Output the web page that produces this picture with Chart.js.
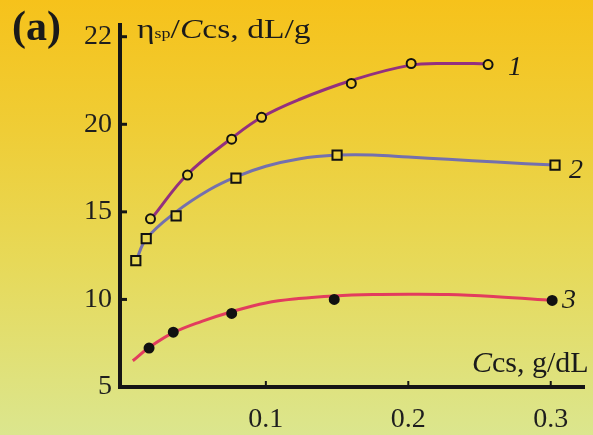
<!DOCTYPE html>
<html><head><meta charset="utf-8">
<script src="https://cdn.jsdelivr.net/npm/chart.js@4.4.0/dist/chart.umd.min.js"></script>
<style>
html,body{margin:0;padding:0;}
body{width:593px;height:435px;overflow:hidden;position:relative;
 background:linear-gradient(180deg,#f6c21b 0%,#efcd36 30%,#e7d958 60%,#dbe68e 100%);
 font-family:"Liberation Serif","Times New Roman",serif;color:#1a1a1a;}
#wrap{position:absolute;left:0;top:0;width:593px;height:435px;}
.t{position:absolute;line-height:1;white-space:nowrap;}
</style></head>
<body>
<div id="wrap"><canvas id="c" width="593" height="435"></canvas></div>
<div class="t" style="left:12px;top:5px;font-size:42px;font-weight:bold">(a)</div>
<div class="t" style="left:137px;top:14.5px;font-size:28px;transform:scaleX(1.2);transform-origin:0 0">η<span style="font-size:15px">sp</span>/<i>C</i>cs, dL/g</div>
<div class="t" style="left:472px;top:347px;font-size:30px"><i>C</i>cs, g/dL</div>
<div class="t" id="l1" style="left:508px;top:51.5px;font-size:28px;font-style:italic"></div>
<div class="t" id="l2" style="left:569px;top:154.5px;font-size:28px;font-style:italic"></div>
<div class="t" id="l3" style="left:562px;top:284.5px;font-size:28px;font-style:italic"></div>
<script>
// ---- data ----
const seriesLabels = ['1', '2', '3'];
const xTickValues = [0.1, 0.2, 0.3];
const xTickLabels = ['0.1', '0.2', '0.3'];
const yTickValues = [5, 10, 15, 20, 25];
const yTickLabels = ['5', '10', '15', '20', '22'];

// measured points
const s1X = [0.019, 0.045, 0.076, 0.097, 0.160, 0.202, 0.256];
const s1Y = [14.6, 17.1, 19.15, 20.4, 22.33, 23.47, 23.41];
const s2X = [0.0087, 0.016, 0.037, 0.079, 0.150, 0.303];
const s2Y = [12.22, 13.47, 14.77, 16.93, 18.24, 17.67];
const s3X = [0.018, 0.035, 0.076, 0.148, 0.301];
const s3Y = [7.22, 8.13, 9.2, 10.0, 9.94];

// fitted curves
const fit1X = [0.021, 0.045, 0.076, 0.097, 0.123, 0.16, 0.2, 0.228, 0.256];
const fit1Y = [14.75, 17.15, 19.2, 20.4, 21.4, 22.5, 23.35, 23.47, 23.45];
const fit2X = [0.0087, 0.016, 0.037, 0.06, 0.079, 0.1, 0.123, 0.15, 0.175, 0.2, 0.228, 0.262, 0.303];
const fit2Y = [12.15, 13.45, 15.0, 16.25, 17.0, 17.6, 18.02, 18.24, 18.25, 18.13, 18.0, 17.84, 17.67];
const fit3X = [0.0066, 0.018, 0.035, 0.055, 0.076, 0.1, 0.123, 0.148, 0.175, 0.2, 0.228, 0.262, 0.301];
const fit3Y = [6.5, 7.25, 8.1, 8.75, 9.3, 9.8, 10.05, 10.2, 10.28, 10.3, 10.28, 10.15, 9.94];

const colors = ['#93307f', '#7470ae', '#e23c5e'];

document.getElementById('l1').textContent = seriesLabels[0];
document.getElementById('l2').textContent = seriesLabels[1];
document.getElementById('l3').textContent = seriesLabels[2];

const pts = (xs, ys) => xs.map((x, i) => ({x: x, y: ys[i]}));
let bgGrad = null;
function markerFill(ctx) {
  if (!bgGrad) {
    const c = ctx.chart.ctx;
    bgGrad = c.createLinearGradient(0, 0, 0, 435);
    bgGrad.addColorStop(0, '#f6c21b');
    bgGrad.addColorStop(0.3, '#efcd36');
    bgGrad.addColorStop(0.6, '#e7d958');
    bgGrad.addColorStop(1, '#dbe68e');
  }
  return bgGrad;
}

const innerTicks = {
  id: 'innerTicks',
  afterDraw(chart) {
    const {ctx, chartArea: a, scales: {x, y}} = chart;
    ctx.save();
    ctx.strokeStyle = '#151515';
    ctx.lineWidth = 3;
    y.ticks.forEach(t => {
      if (t.value === yTickValues[0]) return;
      const py = y.getPixelForValue(t.value);
      ctx.beginPath(); ctx.moveTo(a.left, py); ctx.lineTo(a.left + 7, py); ctx.stroke();
    });
    ctx.lineWidth = 2;
    x.ticks.forEach(t => {
      const px = x.getPixelForValue(t.value);
      ctx.beginPath(); ctx.moveTo(px, a.bottom); ctx.lineTo(px, a.bottom - 6); ctx.stroke();
    });
    ctx.restore();
  }
};

const lineDs = (xs, ys, col) => ({
  data: pts(xs, ys), borderColor: col, borderWidth: 3, pointRadius: 0,
  tension: 0.4, fill: false, order: 1, clip: false
});
const markDs = (xs, ys, style, r, fillFn) => ({
  data: pts(xs, ys), showLine: false, pointStyle: style, pointRadius: r,
  pointBorderColor: '#111', pointBorderWidth: 2, pointBackgroundColor: fillFn,
  order: 0, clip: false
});

const font = {family: '"Liberation Serif","Times New Roman",serif', size: 28};

new Chart(document.getElementById('c'), {
  type: 'line',
  data: {
    datasets: [
      markDs(s1X, s1Y, 'circle', 4.5, markerFill),
      markDs(s2X, s2Y, 'rect', 6.5, markerFill),
      markDs(s3X, s3Y, 'circle', 4.5, '#111'),
      lineDs(fit1X, fit1Y, colors[0]),
      lineDs(fit2X, fit2Y, colors[1]),
      lineDs(fit3X, fit3Y, colors[2])
    ]
  },
  options: {
    responsive: false, animation: false, devicePixelRatio: 1,
    layout: {padding: {left: 0, right: 5, top: 23, bottom: 0}},
    plugins: {legend: {display: false}, tooltip: {enabled: false}},
    scales: {
      x: {
        type: 'linear', min: -0.0024, max: 0.3237,
        afterBuildTicks: s => { s.ticks = xTickValues.map(v => ({value: v})); },
        afterFit: s => { s.height = 48; },
        grid: {display: true, drawOnChartArea: false, drawTicks: false},
        border: {display: true, width: 4, color: '#151515'},
        ticks: {font: font, color: '#1e1e1e', padding: 16, maxRotation: 0, autoSkip: false,
          callback: (v, i) => xTickLabels[i]}
      },
      y: {
        type: 'linear', min: 5, max: 25.68,
        afterBuildTicks: s => { s.ticks = yTickValues.map(v => ({value: v})); },
        afterFit: s => { s.width = 120; },
        grid: {display: true, drawOnChartArea: false, drawTicks: false},
        border: {display: true, width: 4, color: '#151515'},
        ticks: {font: font, color: '#1e1e1e', padding: 8, autoSkip: false,
          callback: (v, i) => yTickLabels[i]}
      }
    }
  },
  plugins: [innerTicks]
});
</script>
</body></html>
